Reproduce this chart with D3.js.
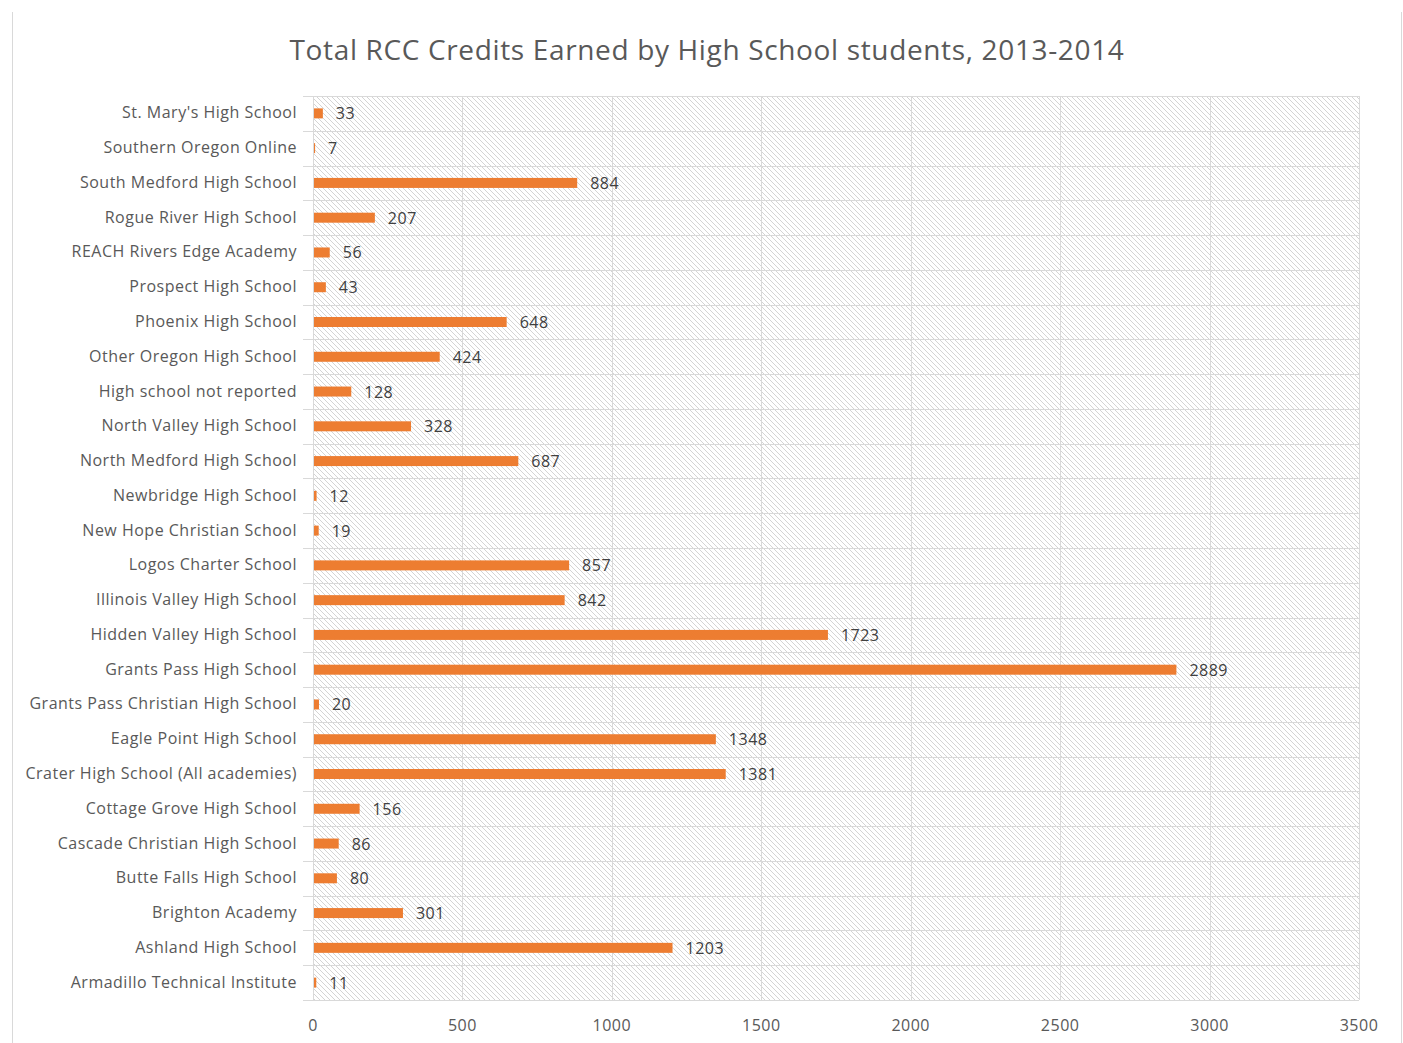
<!DOCTYPE html>
<html><head><meta charset="utf-8">
<script src="https://cdn.jsdelivr.net/npm/d3@7"></script>
<style>body{margin:0;background:#fff;} text{font-family:"Open Sans","Liberation Sans",sans-serif;}</style>
</head><body>
<svg id="c" width="1403" height="1043"></svg>
<script>
const title = "Total RCC Credits Earned by High School students, 2013-2014";
const schools = ["St. Mary's High School","Southern Oregon Online","South Medford High School","Rogue River High School","REACH Rivers Edge Academy","Prospect High School","Phoenix High School","Other Oregon High School","High school not reported","North Valley High School","North Medford High School","Newbridge High School","New Hope Christian School","Logos Charter School","Illinois Valley High School","Hidden Valley High School","Grants Pass High School","Grants Pass Christian High School","Eagle Point High School","Crater High School (All academies)","Cottage Grove High School","Cascade Christian High School","Butte Falls High School","Brighton Academy","Ashland High School","Armadillo Technical Institute"];
const credits = [33,7,884,207,56,43,648,424,128,328,687,12,19,857,842,1723,2889,20,1348,1381,156,86,80,301,1203,11];
const xTicks = [0,500,1000,1500,2000,2500,3000,3500];

const svg = d3.select("#c");
const L = 313, R = 1359, T = 96, B = 1000;
const x = d3.scaleLinear().domain([0,3500]).range([L,R]);
const y = d3.scaleBand().domain(schools).range([T,B]);

// chart border lines
svg.append("line").attr("x1",12.5).attr("x2",12.5).attr("y1",12).attr("y2",1043).attr("stroke","#d9d9d9");
svg.append("line").attr("x1",1401.5).attr("x2",1401.5).attr("y1",12).attr("y2",1043).attr("stroke","#d9d9d9");

const defs = svg.append("defs");
const pat = defs.append("pattern").attr("id","hatch").attr("patternUnits","userSpaceOnUse").attr("width",5).attr("height",5);
pat.append("rect").attr("width",5).attr("height",5).attr("fill","#fff");
pat.append("path").attr("d","M0,0 L5,5 M-1,4 L1,6 M4,-1 L6,1").attr("stroke","#d4d4d4").attr("stroke-width",1);

svg.append("rect").attr("x",L).attr("y",T).attr("width",R-L).attr("height",B-T).attr("fill","url(#hatch)");

// vertical gridlines
svg.append("g").selectAll("line").data(xTicks).join("line")
  .attr("x1",d=>Math.round(x(d))+0.5).attr("x2",d=>Math.round(x(d))+0.5)
  .attr("y1",T).attr("y2",B).attr("stroke","#d9d9d9");
// horizontal gridlines at band boundaries
const bounds = schools.map(s=>y(s)).concat([B]);
svg.append("g").selectAll("line").data(bounds).join("line")
  .attr("x1",L-10).attr("x2",R).attr("y1",d=>Math.round(d)+0.5).attr("y2",d=>Math.round(d)+0.5)
  .attr("stroke","#d9d9d9");

// title
svg.append("text").attr("x",707).attr("y",60).attr("text-anchor","middle")
  .attr("font-size",28).attr("fill","#595959").attr("letter-spacing","0.65").text(title);

// bars
const bh = 10;
svg.append("g").selectAll("rect").data(schools).join("rect")
  .attr("x",x(0)+1).attr("y",(d)=>y(d)+y.bandwidth()/2-bh/2)
  .attr("width",(d,i)=>Math.max(1,x(credits[i])-x(0)-1)).attr("height",bh).attr("fill","#ed7d31");

// value labels
svg.append("g").selectAll("text").data(schools).join("text")
  .attr("x",(d,i)=>x(credits[i])+13).attr("y",d=>y(d)+y.bandwidth()/2+6)
  .attr("font-size",16).attr("fill","#404040").attr("letter-spacing","0.5").text((d,i)=>credits[i]);

// category labels
svg.append("g").selectAll("text").data(schools).join("text")
  .attr("x",297).attr("y",d=>y(d)+y.bandwidth()/2+5)
  .attr("text-anchor","end").attr("font-size",16).attr("fill","#595959").attr("letter-spacing","0.5").text(d=>d);

// x tick labels
svg.append("g").selectAll("text").data(xTicks).join("text")
  .attr("x",d=>x(d)).attr("y",1031).attr("text-anchor","middle")
  .attr("font-size",16).attr("fill","#595959").attr("letter-spacing","0.5").text(d=>d);
</script>
</body></html>
